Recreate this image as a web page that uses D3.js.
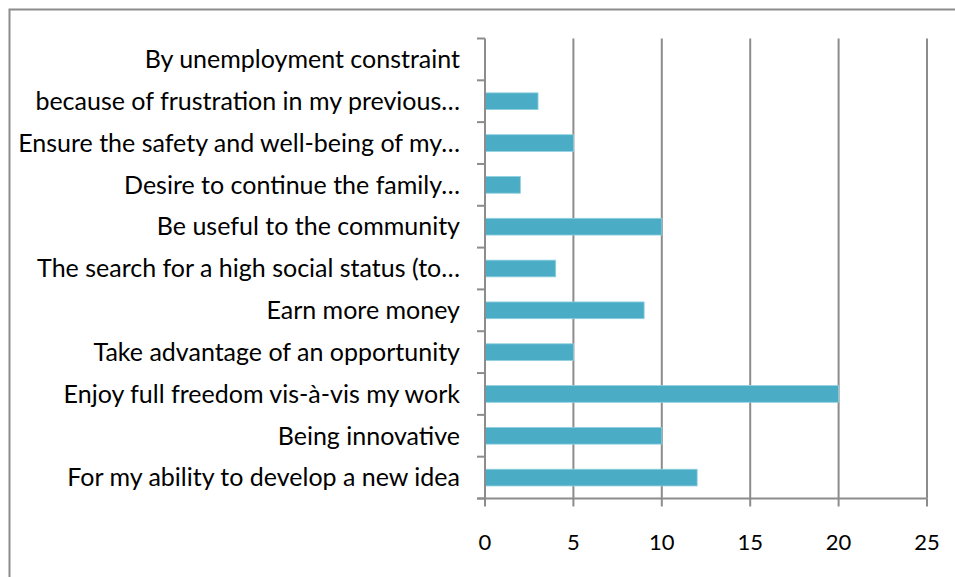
<!DOCTYPE html>
<html>
<head>
<meta charset="utf-8">
<script src="https://cdn.jsdelivr.net/npm/d3@7"></script>
<style>
  html, body { margin: 0; padding: 0; background: #fff; }
  svg { display: block; }
</style>
</head>
<body>
<svg id="chart" width="955" height="577"></svg>
<script>
// Motivations, listed bottom to top as they appear along the axis
const categories = [
  "For my ability to develop a new idea",
  "Being innovative",
  "Enjoy full freedom vis-à-vis my work",
  "Take advantage of an opportunity",
  "Earn more money",
  "The search for a high social status (to…",
  "Be useful to the community",
  "Desire to continue the family…",
  "Ensure the safety and well-being of my…",
  "because of frustration in my previous…",
  "By unemployment constraint"
];
const counts = [12, 10, 20, 5, 9, 4, 10, 2, 5, 3, 0];
const xTicks = [0, 5, 10, 15, 20, 25];

const svg = d3.select("#chart");
const W = 955, H = 577;
const margin = { left: 485, right: 28, top: 38.5, bottom: 78.5 };
const FONT = "Lato, 'Open Sans', sans-serif";
const GRID = "#8c8c8c";

// outer chart frame
svg.append("rect")
  .attr("x", 9.5).attr("y", 9.5)
  .attr("width", 980).attr("height", 600)
  .attr("fill", "none").attr("stroke", GRID).attr("stroke-width", 2);

const x = d3.scaleLinear().domain([0, 25]).range([margin.left, W - margin.right]);
const y = d3.scaleBand()
  .domain(categories.slice().reverse())
  .range([margin.top, H - margin.bottom])
  .paddingInner(0.6).paddingOuter(0.3);
const yEdges = d3.scaleLinear().domain([0, categories.length]).range([margin.top, H - margin.bottom]);

// vertical gridlines
svg.append("g").selectAll("line")
  .data(xTicks.filter(d => d > 0))
  .join("line")
  .attr("x1", d => x(d)).attr("x2", d => x(d))
  .attr("y1", margin.top).attr("y2", H - margin.bottom)
  .attr("stroke", GRID).attr("stroke-width", 2);

// bars
svg.append("g").selectAll("rect")
  .data(categories.map((c, i) => ({ c, v: counts[i] })))
  .join("rect")
  .attr("x", x(0))
  .attr("y", d => y(d.c))
  .attr("width", d => x(d.v) - x(0))
  .attr("height", y.bandwidth())
  .attr("fill", "#4bacc6")
  .attr("stroke", "#8fd0e0").attr("stroke-width", 0.8)
  .attr("display", d => d.v > 0 ? null : "none");

// category axis: line, ticks at band edges, labels
const yAxis = svg.append("g");
yAxis.append("line")
  .attr("x1", x(0)).attr("x2", x(0))
  .attr("y1", margin.top).attr("y2", H - margin.bottom)
  .attr("stroke", GRID).attr("stroke-width", 2);
yAxis.selectAll("line.tk")
  .data(d3.range(categories.length + 1))
  .join("line").attr("class", "tk")
  .attr("x1", x(0) - 8).attr("x2", x(0))
  .attr("y1", d => yEdges(d)).attr("y2", d => yEdges(d))
  .attr("stroke", GRID).attr("stroke-width", 2);
yAxis.selectAll("text")
  .data(categories)
  .join("text")
  .attr("x", 460)
  .attr("y", d => y(d) + y.bandwidth() / 2)
  .attr("dy", "0.35em")
  .attr("text-anchor", "end")
  .attr("font-family", FONT).attr("font-size", 25)
  .attr("fill", "#000")
  .text(d => d);

// value axis
const xAxis = svg.append("g");
xAxis.append("line")
  .attr("x1", x(0) - 8).attr("x2", x(25))
  .attr("y1", H - margin.bottom).attr("y2", H - margin.bottom)
  .attr("stroke", GRID).attr("stroke-width", 2);
xAxis.selectAll("line.tk")
  .data(xTicks)
  .join("line").attr("class", "tk")
  .attr("x1", d => x(d)).attr("x2", d => x(d))
  .attr("y1", H - margin.bottom).attr("y2", H - margin.bottom + 8)
  .attr("stroke", GRID).attr("stroke-width", 2);
xAxis.selectAll("text")
  .data(xTicks)
  .join("text")
  .attr("x", d => x(d))
  .attr("y", 542)
  .attr("dy", "0.35em")
  .attr("text-anchor", "middle")
  .attr("font-family", FONT).attr("font-size", 22)
  .attr("fill", "#000")
  .text(d => d);
</script>
</body>
</html>
